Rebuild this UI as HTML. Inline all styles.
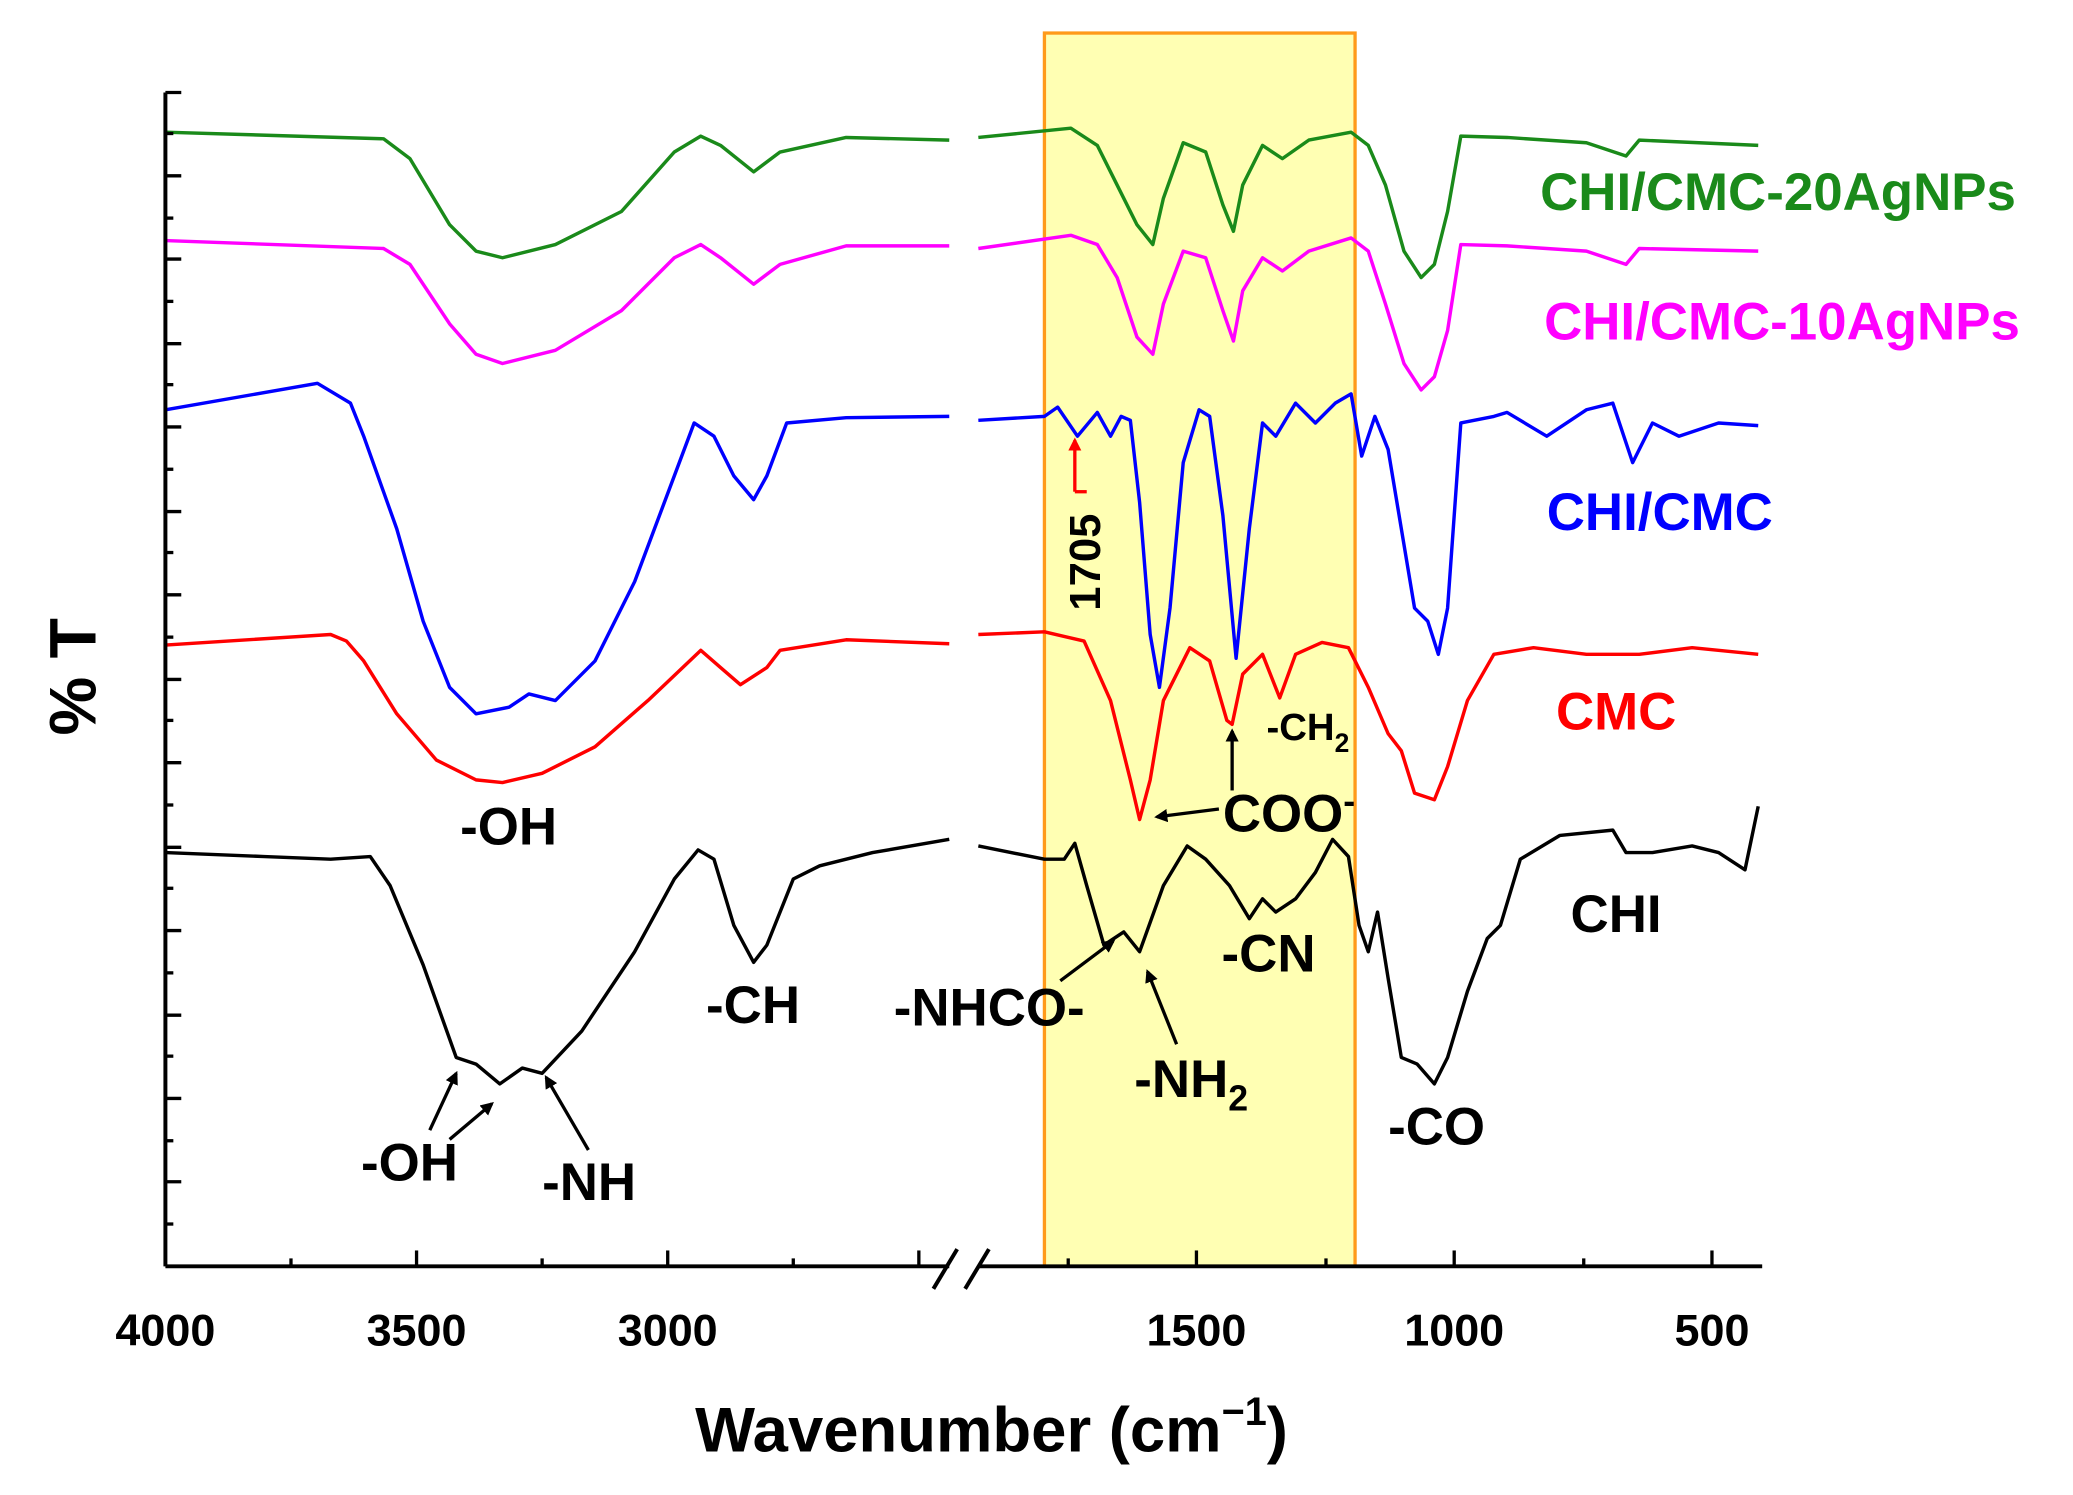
<!DOCTYPE html>
<html><head><meta charset="utf-8"><style>
html,body{margin:0;padding:0;background:#fff}
svg{display:block}
text{font-family:"Liberation Sans",Arial,sans-serif;font-weight:bold}
</style></head><body>
<svg width="2073" height="1495" viewBox="0 0 1568 1131" xmlns="http://www.w3.org/2000/svg">
<defs><marker id="ah" markerWidth="10" markerHeight="10" refX="8" refY="5" orient="auto" markerUnits="userSpaceOnUse"><path d="M0,0 L10,5 L0,10 z" fill="#000"/></marker>
<marker id="ahr" markerWidth="10" markerHeight="10" refX="8" refY="5" orient="auto" markerUnits="userSpaceOnUse"><path d="M0,0 L10,5 L0,10 z" fill="#f00"/></marker></defs>
<rect x="790" y="25" width="235" height="933" fill="#ffffb3" stroke="#ff9a1a" stroke-width="2.5"/>
<g fill="none" stroke-width="2.6" stroke-linejoin="round">
<polyline stroke="#000" points="125,645 200,648 250,650 280,648 295,670 320,730 345,800 360,805 378,820 395,808 410,812 440,780 480,720 510,665 528,643 540,650 555,700 570,728 580,715 600,665 620,655 660,645 718,635"/>
<polyline stroke="#000" points="740,640 790,650 805,650 813,638 822,670 835,715 850,705 862,720 880,670 898,640 912,650 930,670 945,695 955,680 965,690 980,680 995,660 1008,635 1020,648 1028,700 1035,720 1042,690 1050,740 1060,800 1072,805 1085,820 1095,800 1110,750 1125,710 1135,700 1150,650 1180,632 1220,628 1230,645 1250,645 1280,640 1300,645 1320,658 1330,610"/>
<polyline stroke="#f00" points="125,488 250,480 262,485 275,500 300,540 330,575 360,590 380,592 410,585 450,565 490,530 530,492 545,505 560,518 580,505 590,492 640,484 718,487"/>
<polyline stroke="#f00" points="740,480 790,478 820,485 840,530 855,590 862,620 870,590 880,530 900,490 915,500 928,545 932,548 940,510 955,495 968,528 980,495 1000,486 1020,490 1035,520 1050,555 1060,568 1070,600 1085,605 1095,580 1110,530 1130,495 1160,490 1200,495 1240,495 1280,490 1330,495"/>
<polyline stroke="#00f" points="125,310 240,290 265,305 275,330 300,400 320,470 340,520 360,540 385,535 400,525 420,530 450,500 480,440 510,360 525,320 540,330 555,360 570,378 580,360 595,320 640,316 718,315"/>
<polyline stroke="#00f" points="740,318 790,315 800,308 815,330 830,312 840,330 848,315 855,318 862,380 870,480 877,520 885,460 895,350 907,310 915,315 925,390 935,498 945,400 955,320 965,330 980,305 995,320 1010,305 1022,298 1030,345 1040,315 1050,340 1060,400 1070,460 1080,470 1088,495 1095,460 1105,320 1130,315 1140,312 1170,330 1200,310 1220,305 1235,350 1250,320 1270,330 1300,320 1330,322"/>
<polyline stroke="#f0f" points="125,182 290,188 310,200 340,245 360,268 380,275 420,265 470,235 510,195 530,185 545,195 570,215 590,200 640,186 718,186"/>
<polyline stroke="#f0f" points="740,188 810,178 830,185 845,210 860,255 872,268 880,230 895,190 912,195 925,235 933,258 940,220 955,195 970,205 990,190 1022,180 1035,190 1048,230 1062,275 1075,295 1085,285 1095,250 1105,185 1140,186 1200,190 1230,200 1240,188 1330,190"/>
<polyline stroke="#1a8a1a" points="125,100 290,105 310,120 340,170 360,190 380,195 420,185 470,160 510,115 530,103 545,110 570,130 590,115 640,104 718,106"/>
<polyline stroke="#1a8a1a" points="740,104 810,97 830,110 845,140 860,170 872,185 880,150 895,108 912,115 925,155 933,175 940,140 955,110 970,120 990,106 1022,100 1035,110 1048,140 1062,190 1075,210 1085,200 1095,160 1105,103 1140,104 1200,108 1230,118 1240,106 1330,110"/>
</g>
<g stroke="#000" stroke-width="3" fill="none">
<line x1="125" y1="70" x2="125" y2="958"/>
<line x1="125" y1="958" x2="718" y2="958"/>
<line x1="740" y1="958" x2="1333" y2="958"/>
<line x1="706" y1="975" x2="724" y2="945"/><line x1="730" y1="975" x2="748" y2="945"/>
</g>
<g stroke="#000" stroke-width="2.5">
<line x1="125" y1="70" x2="137" y2="70"/><line x1="125" y1="133" x2="137" y2="133"/><line x1="125" y1="196" x2="137" y2="196"/><line x1="125" y1="260" x2="137" y2="260"/><line x1="125" y1="323" x2="137" y2="323"/><line x1="125" y1="387" x2="137" y2="387"/><line x1="125" y1="450" x2="137" y2="450"/><line x1="125" y1="514" x2="137" y2="514"/><line x1="125" y1="577" x2="137" y2="577"/><line x1="125" y1="641" x2="137" y2="641"/><line x1="125" y1="704" x2="137" y2="704"/><line x1="125" y1="768" x2="137" y2="768"/><line x1="125" y1="831" x2="137" y2="831"/><line x1="125" y1="894" x2="137" y2="894"/>
<line x1="125" y1="101" x2="131" y2="101"/><line x1="125" y1="165" x2="131" y2="165"/><line x1="125" y1="228" x2="131" y2="228"/><line x1="125" y1="291" x2="131" y2="291"/><line x1="125" y1="355" x2="131" y2="355"/><line x1="125" y1="418" x2="131" y2="418"/><line x1="125" y1="482" x2="131" y2="482"/><line x1="125" y1="545" x2="131" y2="545"/><line x1="125" y1="609" x2="131" y2="609"/><line x1="125" y1="672" x2="131" y2="672"/><line x1="125" y1="736" x2="131" y2="736"/><line x1="125" y1="799" x2="131" y2="799"/><line x1="125" y1="863" x2="131" y2="863"/><line x1="125" y1="926" x2="131" y2="926"/>
<line x1="315" y1="958" x2="315" y2="946"/><line x1="505" y1="958" x2="505" y2="946"/><line x1="695" y1="958" x2="695" y2="946"/>
<line x1="220" y1="958" x2="220" y2="952"/><line x1="410" y1="958" x2="410" y2="952"/><line x1="600" y1="958" x2="600" y2="952"/>
<line x1="905" y1="958" x2="905" y2="946"/><line x1="1100" y1="958" x2="1100" y2="946"/><line x1="1295" y1="958" x2="1295" y2="946"/>
<line x1="808" y1="958" x2="808" y2="952"/><line x1="1003" y1="958" x2="1003" y2="952"/><line x1="1198" y1="958" x2="1198" y2="952"/>
</g>
<g font-size="34" text-anchor="middle">
<text x="125" y="1018">4000</text><text x="315" y="1018">3500</text><text x="505" y="1018">3000</text>
<text x="905" y="1018">1500</text><text x="1100" y="1018">1000</text><text x="1295" y="1018">500</text>
</g>
<text x="750" y="1098" font-size="48" text-anchor="middle">Wavenumber (cm<tspan dy="-20" font-size="30">−1</tspan><tspan dy="20">)</tspan></text>
<text transform="translate(72,512) rotate(-90)" font-size="50" text-anchor="middle">% T</text>
<g font-size="40">
<text x="1165" y="159" fill="#1a8a1a">CHI/CMC-20AgNPs</text>
<text x="1168" y="257" fill="#f0f">CHI/CMC-10AgNPs</text>
<text x="1170" y="401" fill="#00f">CHI/CMC</text>
<text x="1177" y="552" fill="#f00">CMC</text>
<text x="1188" y="705">CHI</text>
<text x="348" y="639">-OH</text>
<text x="273" y="893">-OH</text>
<text x="410" y="908">-NH</text>
<text x="534" y="774">-CH</text>
<text x="676" y="776">-NHCO-</text>
<text x="858" y="830">-NH<tspan dy="10" font-size="27">2</tspan></text>
<text x="924" y="735">-CN</text>
<text x="925" y="629">COO<tspan dy="-14" font-size="27">-</tspan></text>
<text x="1050" y="866">-CO</text>
</g>
<text x="958" y="560" font-size="29">-CH<tspan dy="9" font-size="20">2</tspan></text>
<text transform="translate(832,462) rotate(-90)" font-size="33">1705</text>
<g stroke="#000" stroke-width="2.5" fill="none" marker-end="url(#ah)">
<line x1="325" y1="855" x2="345" y2="812"/>
<line x1="340" y1="862" x2="372" y2="835"/>
<line x1="445" y1="870" x2="413" y2="815"/>
<line x1="802" y1="742" x2="842" y2="712"/>
<line x1="890" y1="790" x2="868" y2="735"/>
<line x1="932" y1="598" x2="932" y2="553"/>
<line x1="922" y1="612" x2="875" y2="618"/>
</g>
<line x1="813" y1="372" x2="813" y2="333" stroke="#f00" stroke-width="2.5" marker-end="url(#ahr)"/>
<line x1="813" y1="372" x2="822" y2="372" stroke="#f00" stroke-width="2.5"/>
</svg>
</body></html>
